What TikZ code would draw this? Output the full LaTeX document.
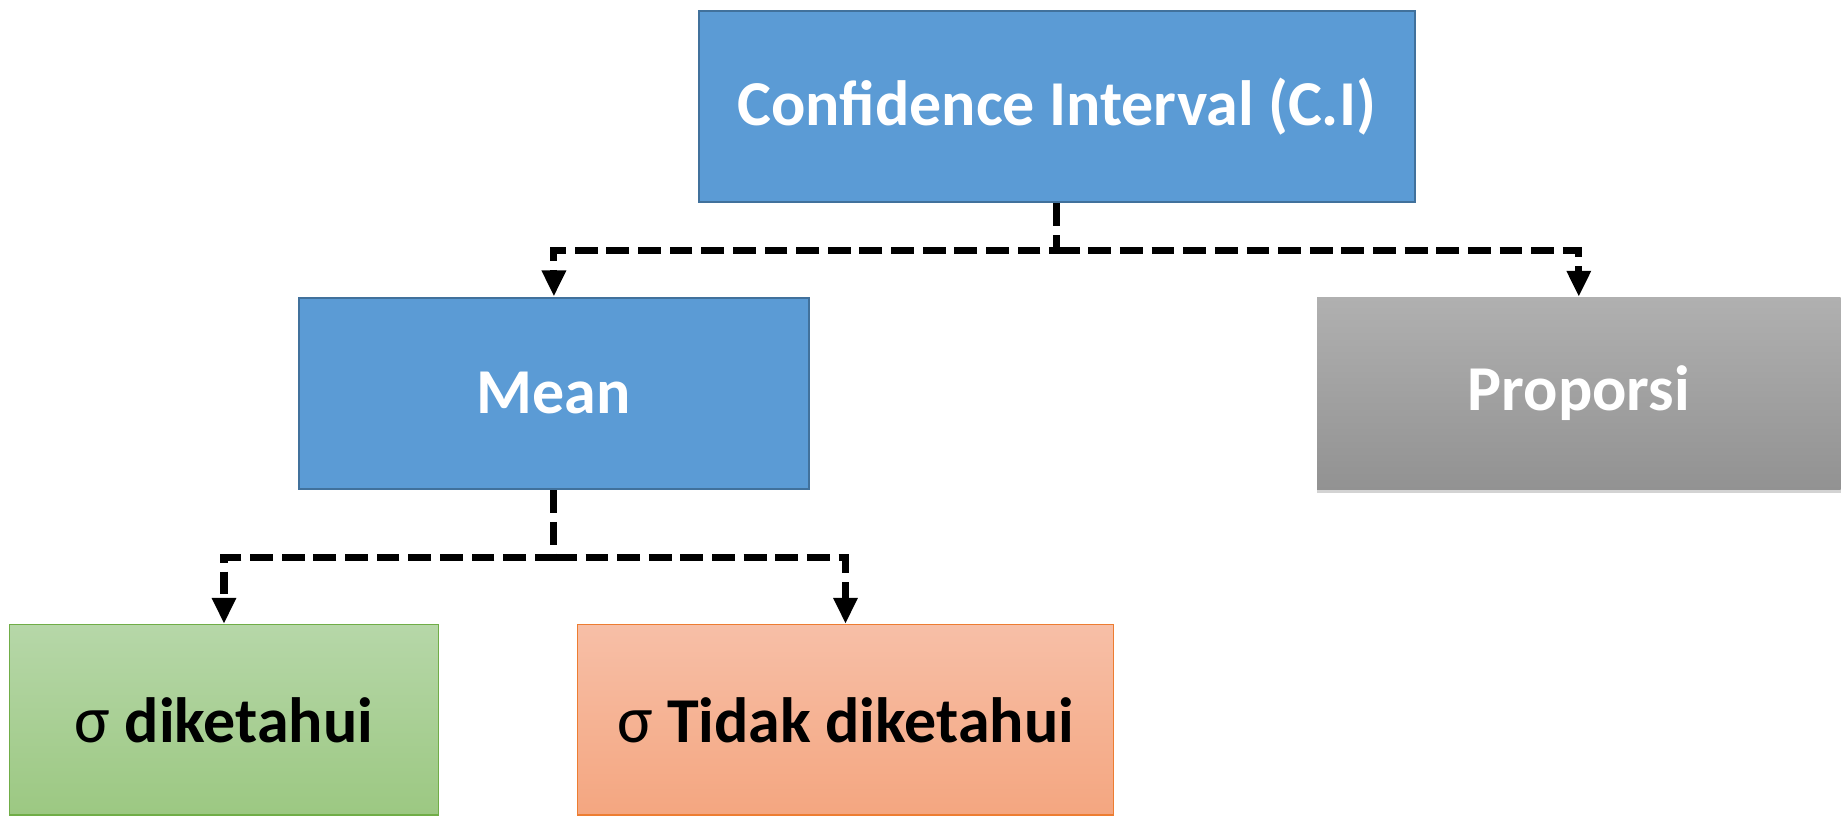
\documentclass[tikz,border=0pt]{standalone}
\usepackage{fontspec}
\setmainfont{Carlito}
\usepackage{tikz}
\usetikzlibrary{arrows.meta, positioning, calc, shadows}
\definecolor{ciblue}{HTML}{5B9BD5}
\definecolor{ciborder}{HTML}{41719C}
\definecolor{greytop}{HTML}{B0B0B0}
\definecolor{greybot}{HTML}{929292}
\definecolor{greentop}{HTML}{B6D7A8}
\definecolor{greenbot}{HTML}{9CC882}
\definecolor{greenline}{HTML}{70AD47}
\definecolor{orangetop}{HTML}{F7BFA7}
\definecolor{orangebot}{HTML}{F4A680}
\definecolor{orangeline}{HTML}{ED7D31}
\newcommand{\sigmasym}{{\mdseries\fontsize{19}{21}\selectfont σ}}

\tikzset{
    box/.style={rectangle, inner sep=0pt, minimum height=1.917cm,
        font=\fontsize{18.2}{21}\selectfont\bfseries},
    bluebox/.style={box, fill=ciblue, draw=ciborder, line width=0.6pt, text=white},
    greybox/.style={box, top color=greytop, bottom color=greybot, text=white,
        drop shadow={shadow xshift=0pt, shadow yshift=-1.2pt, opacity=0.35}},
    greenbox/.style={box, minimum height=1.905cm, top color=greentop, bottom color=greenbot,
        draw=greenline, line width=0.4pt, text=black},
    orangebox/.style={box, minimum height=1.905cm, top color=orangetop, bottom color=orangebot,
        draw=orangeline, line width=0.4pt, text=black},
    conn/.style={line width=2pt, dash pattern=on 6.5pt off 2.5pt,
        -{Triangle[length=7.4pt, width=6.5pt]}}
}

\begin{document}
\begin{tikzpicture}
    \useasboundingbox (0,0) rectangle (18.44,-8.22);

    % Top level
    \node[bluebox, minimum width=7.162cm] (ci) at (10.567,-1.065) {Confidence Interval (C.I)};

    % Second level
    \node[bluebox, minimum width=5.103cm] (mean) at (5.539,-3.934) {Mean};
    \node[greybox, minimum width=5.235cm] (prop) at (15.788,-3.934) {Proporsi};

    % Third level
    \node[greenbox, minimum width=4.292cm] (known) at (2.24,-7.198) {\sigmasym{} diketahui};
    \node[orangebox, minimum width=5.363cm] (unknown) at (8.455,-7.198) {\sigmasym{} Tidak diketahui};

    % Connectors
    \coordinate (splitTop) at ($(ci.south)+(0,-0.47)$);
    \coordinate (splitMean) at ($(mean.south)+(0,-0.67)$);
    \draw[conn] (ci.south) -- (splitTop) -| (mean.north);
    \draw[conn] (splitTop) -| (prop.north);
    \draw[conn] (mean.south) -- (splitMean) -| (known.north);
    \draw[conn] (splitMean) -| (unknown.north);
\end{tikzpicture}
\end{document}
